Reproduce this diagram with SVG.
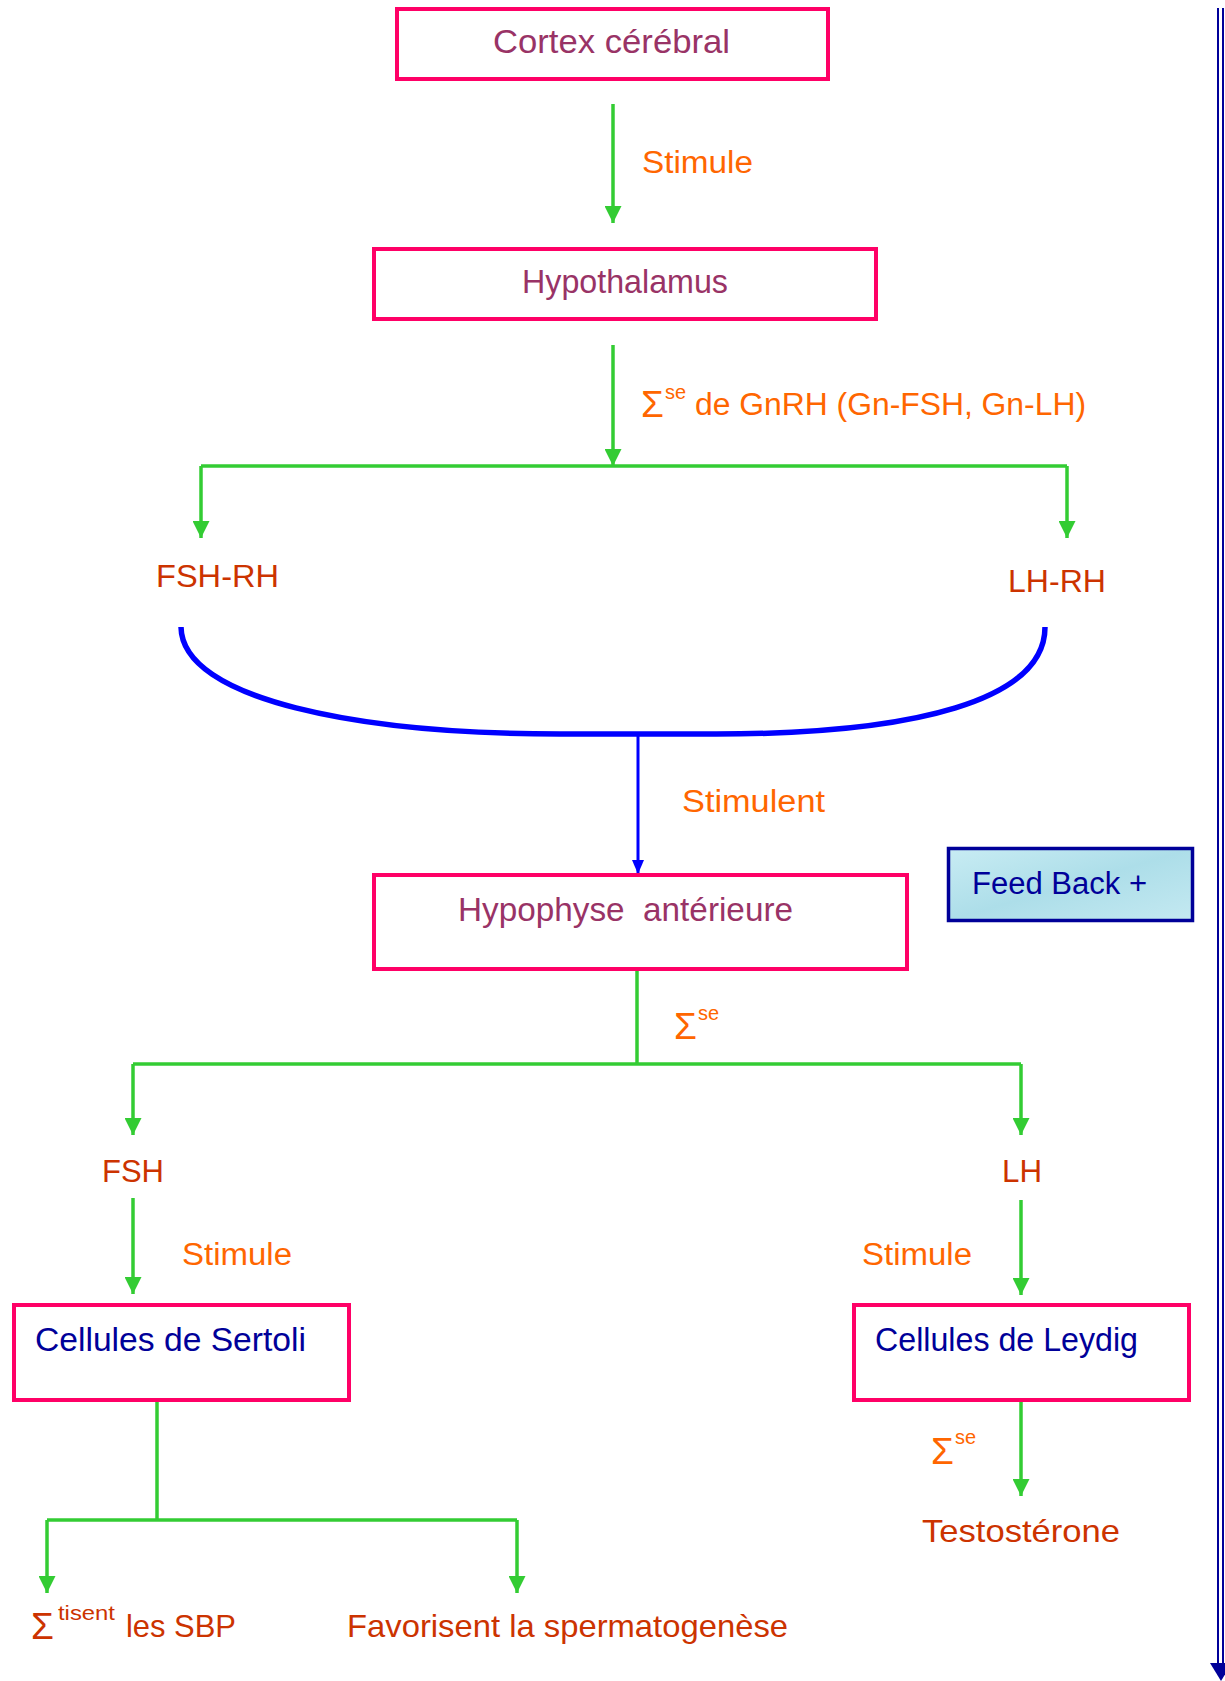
<svg xmlns="http://www.w3.org/2000/svg" width="1225" height="1681" viewBox="0 0 1225 1681">
<style>
.t{font-family:"Liberation Sans",Arial,sans-serif;white-space:pre}
.box{fill:#fff;stroke:#FF0066;stroke-width:4}
.nt{fill:#993366;font-size:33px}
.lb{fill:#FF6600;font-size:31px}
.hr{fill:#CC3300;font-size:32px}
.ce{fill:#000099;font-size:34px}
.sg{font-size:37px}
.sup{font-size:20px}
.g{stroke:#33CC33;stroke-width:3.5;fill:none}
.gl{stroke:#33CC33;stroke-width:3.5;fill:none;marker-end:url(#ga)}
</style>
<defs>
<marker id="ga" viewBox="0 0 16 17" refX="17" refY="8.5" markerWidth="17" markerHeight="17" markerUnits="userSpaceOnUse" orient="auto">
<path d="M0,0 L17,8.5 L0,17 Z" fill="#33CC33"/>
</marker>
<marker id="ba" viewBox="0 0 14 12" refX="14" refY="6" markerWidth="14" markerHeight="12" markerUnits="userSpaceOnUse" orient="auto">
<path d="M0,0 L14,6 L0,12 Z" fill="#0000FF"/>
</marker>
<linearGradient id="fb" x1="0" y1="0" x2="1" y2="1">
<stop offset="0" stop-color="#c8ecf3"/>
<stop offset="0.5" stop-color="#addee9"/>
<stop offset="1" stop-color="#c4e9f1"/>
</linearGradient>
</defs>

<g id="connectors">
<path class="gl" d="M613,104 V223"/>
<path class="gl" d="M613,345 V466"/>
<path class="g" d="M201,466 H1067"/>
<path class="gl" d="M201,466 V538"/>
<path class="gl" d="M1067,466 V538"/>
<path d="M181,627 C182,700 360,734 560,734 L716,734 C916,734 1045,700 1045,627" fill="none" stroke="#0000FF" stroke-width="5.5"/>
<path d="M638,734 V874" fill="none" stroke="#0000FF" stroke-width="3" marker-end="url(#ba)"/>
<path class="g" d="M637,971 V1064"/>
<path class="g" d="M133,1064 H1021"/>
<path class="gl" d="M133,1064 V1135"/>
<path class="gl" d="M1021,1064 V1135"/>
<path class="gl" d="M133,1198 V1294"/>
<path class="gl" d="M1021,1200 V1295"/>
<path class="g" d="M157,1402 V1520"/>
<path class="g" d="M47,1520 H517"/>
<path class="gl" d="M47,1520 V1593"/>
<path class="gl" d="M517,1520 V1593"/>
<path class="gl" d="M1021,1402 V1496"/>
<g id="feedback-arrow">
<path d="M1218,8 V1664 M1223,8 V1664" stroke="#000099" stroke-width="2" fill="none"/>
<path d="M1210,1663 L1232,1663 L1221,1681 Z" fill="#000099"/>
</g>
</g>

<g id="cortex">
<rect class="box" x="397" y="9" width="431" height="70"/>
<text class="t nt" x="493" y="53" textLength="237" lengthAdjust="spacingAndGlyphs">Cortex cérébral</text>
</g>
<g id="label-stimule-1">
<text class="t lb" x="642" y="173" textLength="111" lengthAdjust="spacingAndGlyphs">Stimule</text>
</g>
<g id="hypothalamus">
<rect class="box" x="374" y="249" width="502" height="70"/>
<text class="t nt" x="522" y="293" textLength="206" lengthAdjust="spacingAndGlyphs">Hypothalamus</text>
</g>
<g id="label-gnrh">
<text class="t lb sg" x="641" y="417">Σ</text>
<text class="t lb sup" x="665" y="399">se</text>
<text class="t lb" x="695" y="415" textLength="391" lengthAdjust="spacingAndGlyphs">de GnRH (Gn-FSH, Gn-LH)</text>
</g>
<g id="fsh-rh">
<text class="t hr" x="156" y="587" textLength="123" lengthAdjust="spacingAndGlyphs">FSH-RH</text>
</g>
<g id="lh-rh">
<text class="t hr" x="1008" y="592" textLength="98" lengthAdjust="spacingAndGlyphs">LH-RH</text>
</g>
<g id="label-stimulent">
<text class="t lb" x="682" y="812" textLength="143" lengthAdjust="spacingAndGlyphs">Stimulent</text>
</g>
<g id="hypophyse">
<rect class="box" x="374" y="875" width="533" height="94"/>
<text class="t nt" x="458" y="921" textLength="335" lengthAdjust="spacingAndGlyphs">Hypophyse  antérieure</text>
</g>
<g id="feed-back">
<rect x="948.5" y="848.5" width="244" height="72" fill="url(#fb)" stroke="#000099" stroke-width="3.5"/>
<text class="t" x="972" y="894" fill="#000099" font-size="31" textLength="175" lengthAdjust="spacingAndGlyphs">Feed Back +</text>
</g>
<g id="label-sigma-1">
<text class="t lb sg" x="674" y="1039">Σ</text>
<text class="t lb sup" x="698" y="1020">se</text>
</g>
<g id="fsh">
<text class="t hr" x="102" y="1182" textLength="62" lengthAdjust="spacingAndGlyphs">FSH</text>
</g>
<g id="lh">
<text class="t hr" x="1002" y="1182" textLength="40" lengthAdjust="spacingAndGlyphs">LH</text>
</g>
<g id="label-stimule-2">
<text class="t lb" x="182" y="1265" textLength="110" lengthAdjust="spacingAndGlyphs">Stimule</text>
</g>
<g id="label-stimule-3">
<text class="t lb" x="862" y="1265" textLength="110" lengthAdjust="spacingAndGlyphs">Stimule</text>
</g>
<g id="sertoli">
<rect class="box" x="14" y="1305" width="335" height="95"/>
<text class="t ce" x="35" y="1351" textLength="271" lengthAdjust="spacingAndGlyphs">Cellules de Sertoli</text>
</g>
<g id="leydig">
<rect class="box" x="854" y="1305" width="335" height="95"/>
<text class="t ce" x="875" y="1351" textLength="263" lengthAdjust="spacingAndGlyphs">Cellules de Leydig</text>
</g>
<g id="label-sigma-2">
<text class="t lb sg" x="931" y="1464">Σ</text>
<text class="t lb sup" x="955" y="1444">se</text>
</g>
<g id="testosterone">
<text class="t hr" x="922" y="1542" textLength="198" lengthAdjust="spacingAndGlyphs">Testostérone</text>
</g>
<g id="sbp">
<text class="t hr sg" x="31" y="1639">Σ</text>
<text class="t hr sup" x="58" y="1620" textLength="57" lengthAdjust="spacingAndGlyphs">tisent</text>
<text class="t hr" x="126" y="1637" textLength="110" lengthAdjust="spacingAndGlyphs">les SBP</text>
</g>
<g id="spermatogenese">
<text class="t hr" x="347" y="1637" textLength="441" lengthAdjust="spacingAndGlyphs">Favorisent la spermatogenèse</text>
</g>
</svg>
